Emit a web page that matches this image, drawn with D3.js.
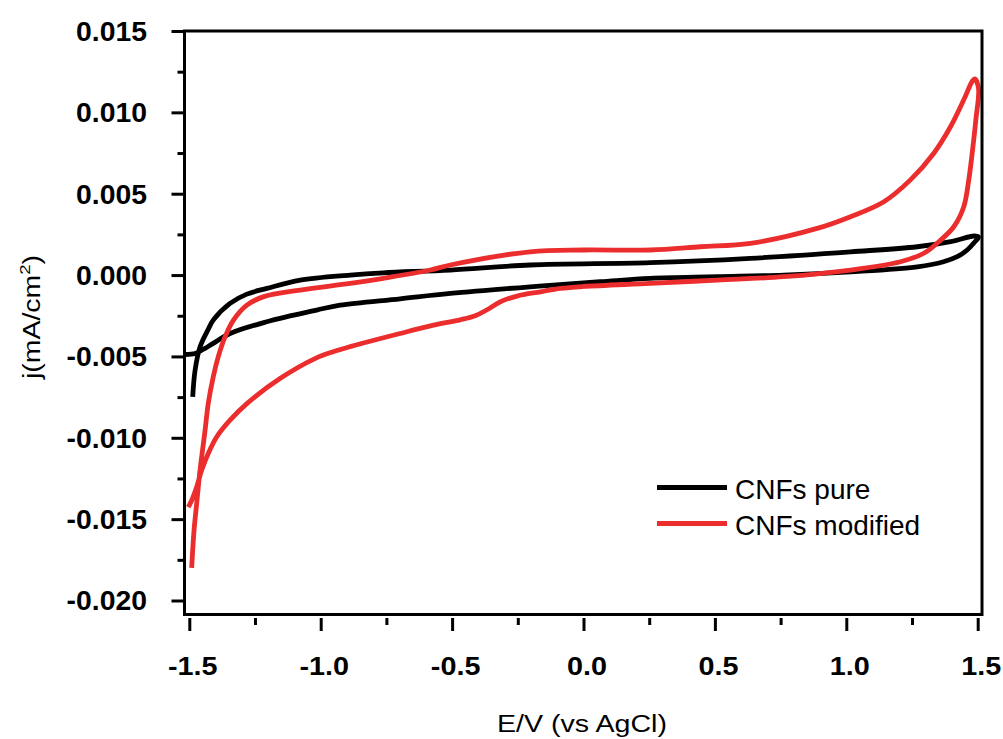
<!DOCTYPE html>
<html>
<head>
<meta charset="utf-8">
<script src="https://cdn.jsdelivr.net/npm/d3@7"></script>
<style>
  html, body { margin: 0; padding: 0; background: #fff; }
  svg { display: block; }
  text { font-family: "Liberation Sans", Arial, sans-serif; fill: #000; }
</style>
</head>
<body>
<svg id="chart" width="1003" height="739"></svg>
<script>
// ---- data ----
const xTicks = [-1.5, -1.0, -0.5, 0.0, 0.5, 1.0, 1.5];
const xMinorTicks = [-1.25, -0.75, -0.25, 0.25, 0.75, 1.25];
const yTicks = [0.015, 0.010, 0.005, 0.000, -0.005, -0.010, -0.015, -0.020];
const yMinorTicks = [0.0125, 0.0075, 0.0025, -0.0025, -0.0075, -0.0125, -0.0175];

const seriesNames = ["CNFs pure", "CNFs modified"];

// CNFs pure: potential (V) and current density along the scan loop
const pureE = [-1.487, -1.478, -1.459, -1.430, -1.409, -1.345, -1.281, -1.205, -1.078, -0.888, -0.762, -0.507, -0.203,
  0.254, 0.635, 1.016, 1.270, 1.397, 1.486, 1.503,
  1.484, 1.460, 1.422, 1.370, 1.270, 1.016, 0.762, 0.508, 0.254, 0.064, -0.203, -0.507, -0.698,
  -0.926, -1.015, -1.205, -1.345, -1.409, -1.453, -1.478, -1.516];
const pureJ = [-0.00749, -0.00585, -0.00441, -0.00340, -0.00277, -0.00174, -0.00117, -0.00082, -0.00031, 0.00000, 0.00014, 0.00031, 0.00062,
  0.00076, 0.00103, 0.00143, 0.00174, 0.00205, 0.00240, 0.00234,
  0.00195, 0.00154, 0.00113, 0.00082, 0.00051, 0.00020, 0.00000, -0.00010, -0.00020, -0.00041, -0.00072, -0.00113, -0.00146,
  -0.00185, -0.00215, -0.00287, -0.00359, -0.00420, -0.00462, -0.00482, -0.00488];

// CNFs modified
const modE = [-1.491, -1.482, -1.472, -1.462, -1.453, -1.440, -1.428, -1.409, -1.390, -1.364, -1.332, -1.281, -1.219,
  -1.078, -0.888, -0.762, -0.583, -0.507, -0.203, 0.000, 0.254, 0.445, 0.635, 0.889, 1.016, 1.143, 1.244, 1.333,
  1.397, 1.447, 1.479, 1.489,
  1.503, 1.493, 1.479, 1.466, 1.447, 1.409, 1.359, 1.295, 1.206, 1.016, 0.762, 0.508, 0.254, 0.000, -0.088, -0.164,
  -0.253, -0.316, -0.367, -0.412, -0.469, -0.571, -0.698, -0.888, -0.950, -1.020, -1.155, -1.281, -1.345, -1.396, -1.428,
  -1.453, -1.472, -1.491, -1.504];
const modJ = [-0.01800, -0.01569, -0.01405, -0.01241, -0.01118, -0.00954, -0.00790, -0.00626, -0.00503, -0.00380, -0.00277, -0.00185, -0.00134,
  -0.00092, -0.00051, -0.00020, 0.00031, 0.00062, 0.00143, 0.00154, 0.00154, 0.00174, 0.00195, 0.00287, 0.00359, 0.00451, 0.00585, 0.00749,
  0.00913, 0.01077, 0.01190, 0.01206,
  0.01149, 0.00954, 0.00749, 0.00585, 0.00420, 0.00297, 0.00215, 0.00134, 0.00082, 0.00031, -0.00010, -0.00031, -0.00051, -0.00070, -0.00082, -0.00103,
  -0.00129, -0.00164, -0.00213, -0.00250, -0.00275, -0.00308, -0.00359, -0.00440, -0.00470, -0.00512, -0.00636, -0.00790, -0.00892, -0.00995, -0.01097,
  -0.01200, -0.01303, -0.01385, -0.01426];

const xLabel = "E/V (vs AgCl)";
const yLabelMain = "j(mA/cm";
const yLabelSup = "2";
const yLabelEnd = ")";

// ---- layout ----
const svg = d3.select("#chart");
const frame = { left: 184.5, right: 982, top: 31, bottom: 614.5 };
const x = d3.scaleLinear().domain([-1.5, 1.5]).range([189.3, 977.7]);
const y = d3.scaleLinear().domain([-0.020, 0.015]).range([600.5, 31]);
const colors = ["#000000", "#ec2d2d"];

function stretch(sel, k) {
  sel.each(function () {
    const len = this.getComputedTextLength();
    d3.select(this).attr("textLength", len * k).attr("lengthAdjust", "spacingAndGlyphs");
  });
}

// data lines
const line = d3.line().x(d => x(d[0])).y(d => y(d[1])).curve(d3.curveCatmullRom.alpha(0.5));
const pureData = pureE.map((e, i) => [e, pureJ[i]]);
const modData = modE.map((e, i) => [e, modJ[i]]);

svg.append("path").datum(pureData).attr("d", line)
  .attr("fill", "none").attr("stroke", colors[0]).attr("stroke-width", 4.8)
  .attr("stroke-linejoin", "round").attr("stroke-linecap", "butt");
svg.append("path").datum(modData).attr("d", line)
  .attr("fill", "none").attr("stroke", colors[1]).attr("stroke-width", 4.8)
  .attr("stroke-linejoin", "round").attr("stroke-linecap", "butt");

// frame
svg.append("rect")
  .attr("x", frame.left).attr("y", frame.top)
  .attr("width", frame.right - frame.left).attr("height", frame.bottom - frame.top)
  .attr("fill", "none").attr("stroke", "#000").attr("stroke-width", 3);

// y axis
const yAxis = svg.append("g").attr("transform", `translate(${frame.left},0)`)
  .call(d3.axisLeft(y).tickValues(yTicks).tickSize(13).tickPadding(24)
    .tickFormat(d3.format(".3f")));
yAxis.select(".domain").remove();
yAxis.selectAll(".tick line").attr("stroke", "#000").attr("stroke-width", 3);
yAxis.selectAll(".tick text")
  .attr("font-size", 27).attr("font-weight", "bold")
  .attr("font-family", "Liberation Sans, Arial, sans-serif")
  .attr("x", -37.5).attr("dy", "0.35em")
  .text(d => d3.format(".3f")(d).replace("−", "-"));
stretch(yAxis.selectAll(".tick text"), 1.05);

const yMinor = svg.append("g").attr("transform", `translate(${frame.left},0)`)
  .call(d3.axisLeft(y).tickValues(yMinorTicks).tickSize(7).tickFormat(""));
yMinor.select(".domain").remove();
yMinor.selectAll(".tick line").attr("stroke", "#000").attr("stroke-width", 3);

// x axis
const xAxis = svg.append("g").attr("transform", `translate(0,618)`)
  .call(d3.axisBottom(x).tickValues(xTicks).tickSize(13).tickFormat(d3.format(".1f")));
xAxis.select(".domain").remove();
xAxis.selectAll(".tick line").attr("stroke", "#000").attr("stroke-width", 3);
xAxis.selectAll(".tick text")
  .attr("font-size", 25).attr("font-weight", "bold")
  .attr("font-family", "Liberation Sans, Arial, sans-serif")
  .attr("x", 3).attr("y", 57).attr("dy", 0)
  .text(d => d3.format(".1f")(d).replace("−", "-"));
stretch(xAxis.selectAll(".tick text"), 1.15);

const xMinor = svg.append("g").attr("transform", `translate(0,618)`)
  .call(d3.axisBottom(x).tickValues(xMinorTicks).tickSize(7).tickFormat(""));
xMinor.select(".domain").remove();
xMinor.selectAll(".tick line").attr("stroke", "#000").attr("stroke-width", 3);

// axis titles
const xt = svg.append("text").attr("x", 582).attr("y", 732)
  .attr("text-anchor", "middle").attr("font-size", 23).text(xLabel);
xt.attr("textLength", 170).attr("lengthAdjust", "spacingAndGlyphs");

const yt = svg.append("text")
  .attr("transform", "translate(40,317) rotate(-90)")
  .attr("text-anchor", "middle").attr("font-size", 23);
yt.append("tspan").text(yLabelMain);
yt.append("tspan").attr("font-size", 15).attr("dy", -10).text(yLabelSup);
yt.append("tspan").attr("dy", 10).text(yLabelEnd);
yt.attr("textLength", 124).attr("lengthAdjust", "spacingAndGlyphs");

// legend
const legendY = [487.5, 523.5];
seriesNames.forEach((name, i) => {
  svg.append("line")
    .attr("x1", 657).attr("x2", 727).attr("y1", legendY[i]).attr("y2", legendY[i])
    .attr("stroke", colors[i]).attr("stroke-width", 5);
  svg.append("text").attr("x", 735).attr("y", legendY[i] + 11)
    .attr("font-size", 28).text(name);
});
</script>
</body>
</html>
